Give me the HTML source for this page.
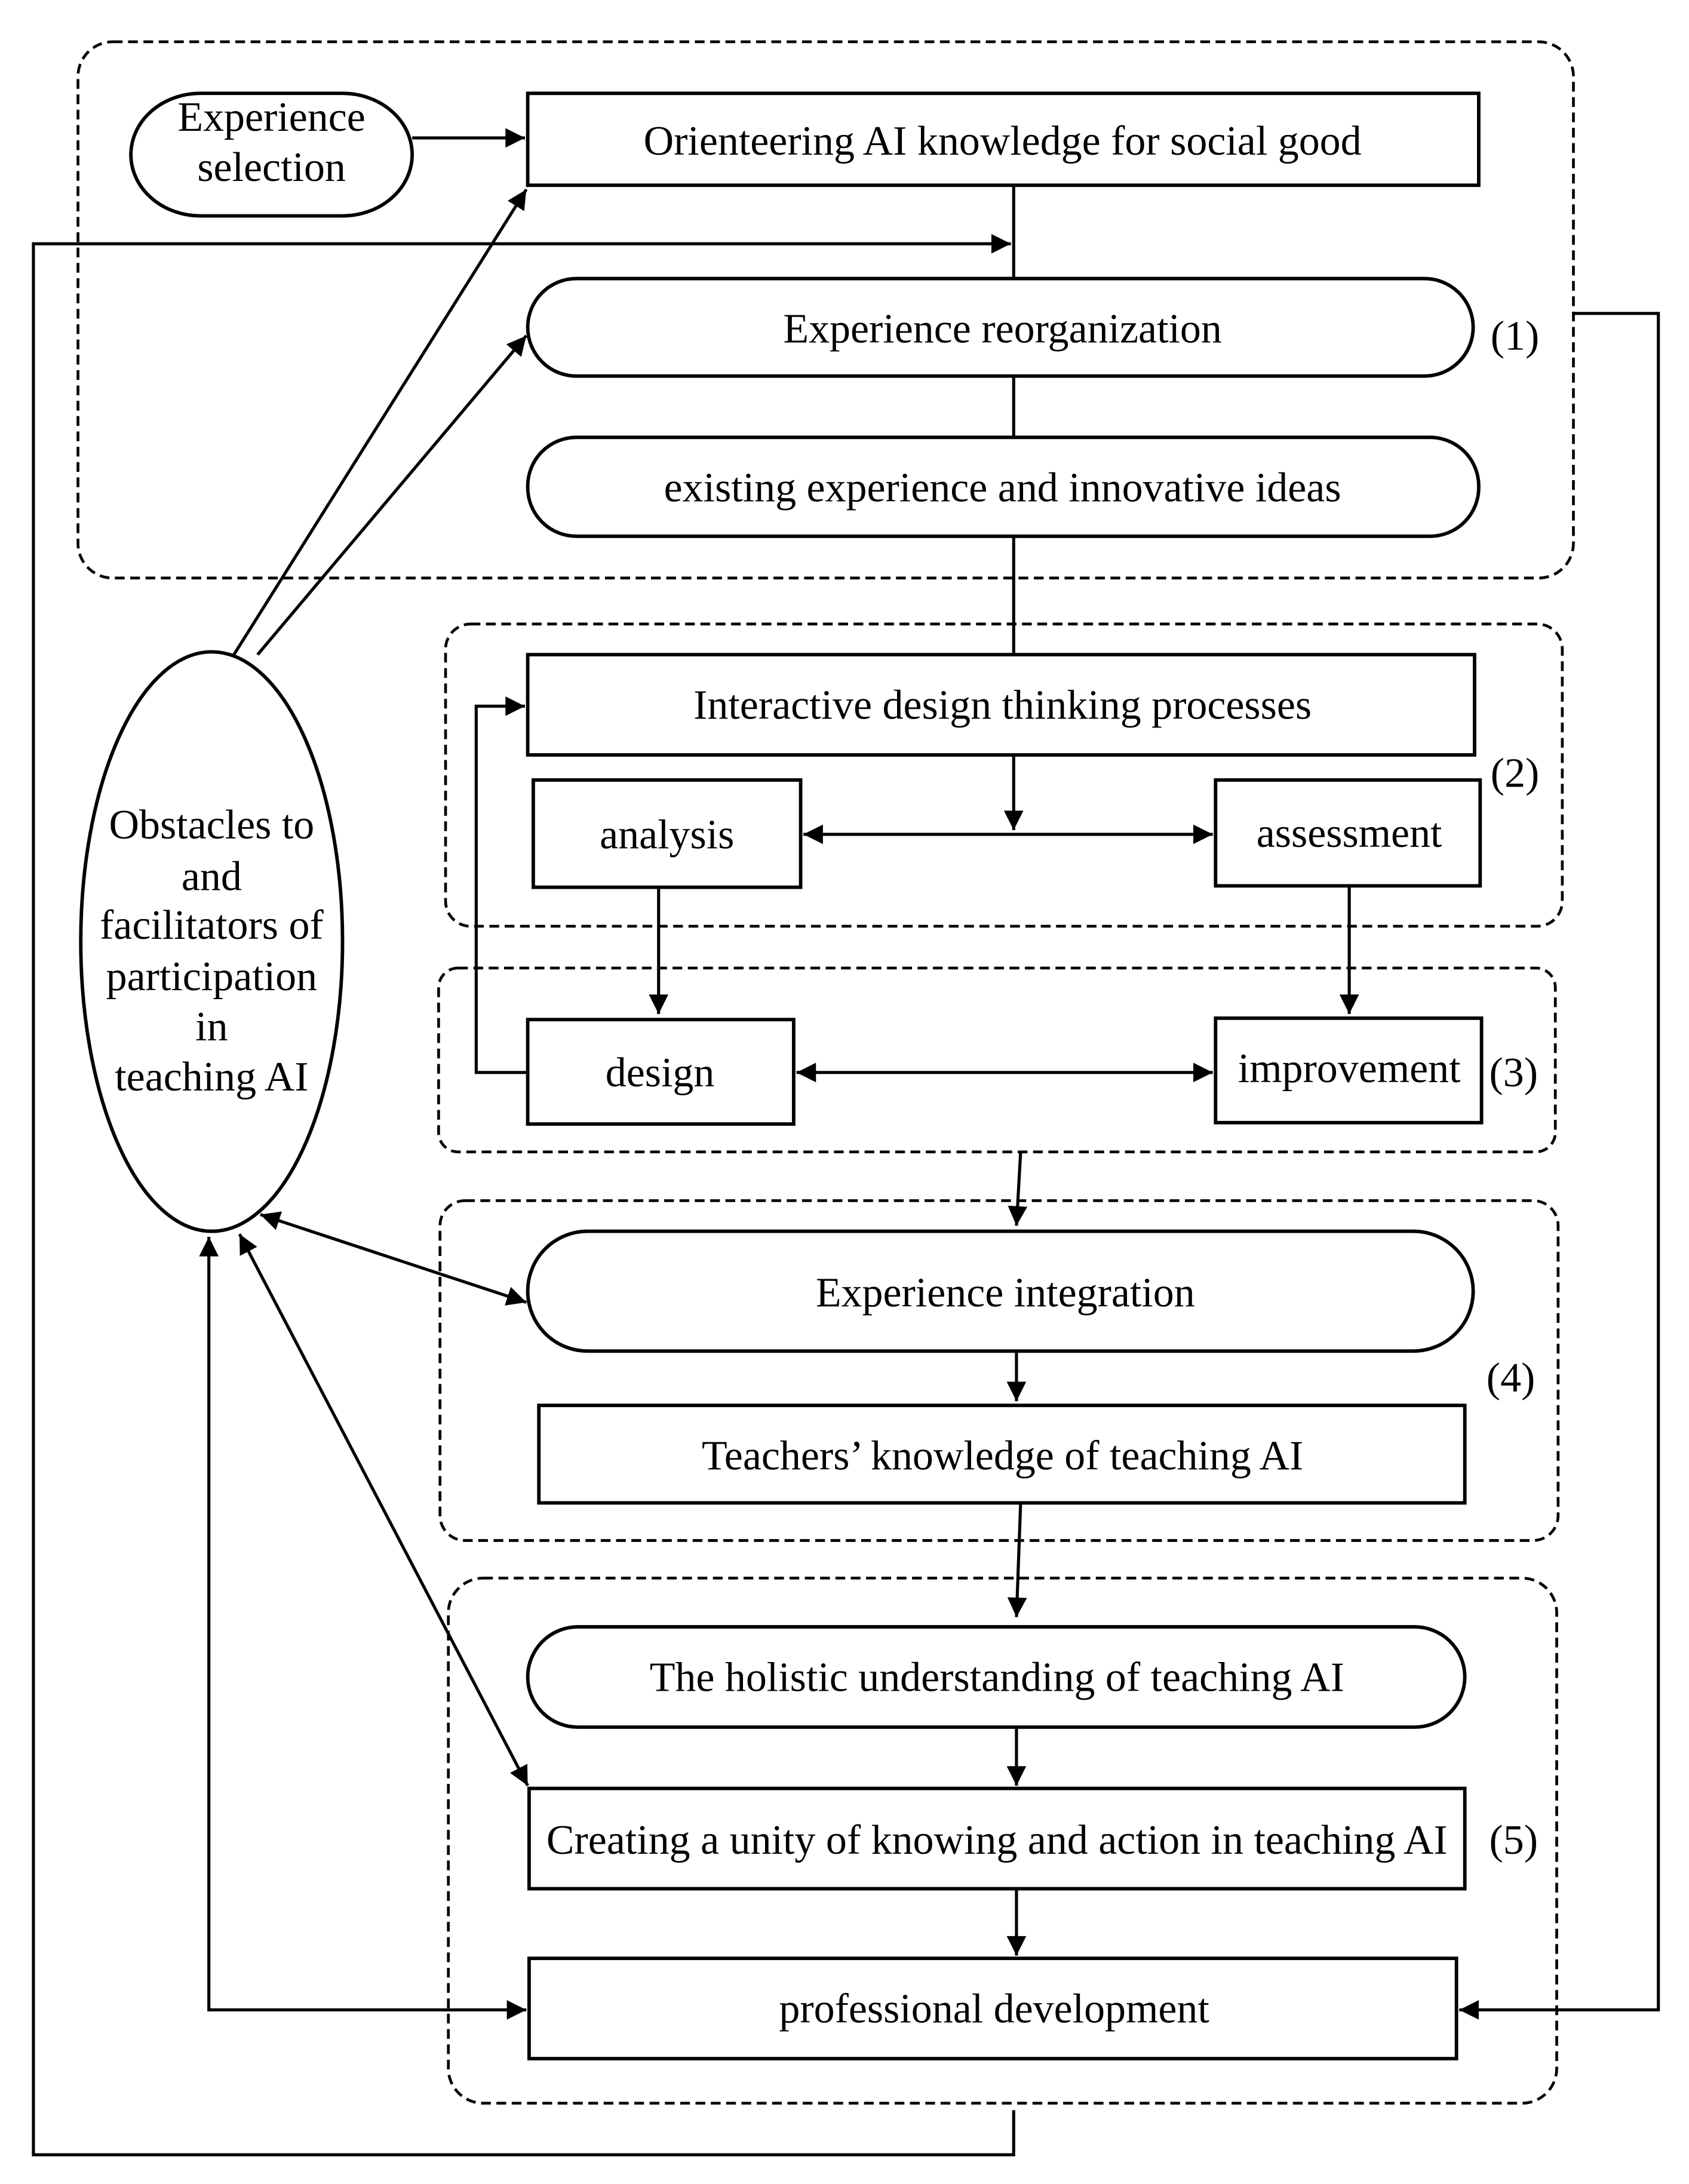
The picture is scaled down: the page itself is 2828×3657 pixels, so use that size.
<!DOCTYPE html>
<html><head><meta charset="utf-8"><style>html,body{margin:0;padding:0;background:#fff}svg{display:block}</style></head><body>
<svg width="2828" height="3657" viewBox="0 0 1213 1568" preserveAspectRatio="none" xmlns="http://www.w3.org/2000/svg">
<defs>
<marker id="b" viewBox="0 0 10 10" refX="10" refY="5" markerWidth="18" markerHeight="14" markerUnits="userSpaceOnUse" orient="auto-start-reverse"><path d="M0,0L10,5L0,10z" fill="#000"/></marker></defs>
<g fill="none" stroke="#000" stroke-width="2" stroke-dasharray="7 4">
<rect x="56" y="30" width="1074" height="385" rx="25"/>
<rect x="320" y="448" width="802" height="217" rx="18"/>
<rect x="315" y="695" width="802" height="132" rx="14"/>
<rect x="316" y="862" width="803" height="244" rx="18"/>
<rect x="322" y="1133" width="796" height="377" rx="25"/>
</g>
<g fill="#fff" stroke="#000" stroke-width="2.5">
<rect x="94" y="67" width="202" height="88" rx="50"/>
<rect x="379" y="67" width="683" height="66"/>
<rect x="379" y="200" width="679" height="70" rx="35"/>
<rect x="379" y="314" width="683" height="71" rx="35"/>
<rect x="379" y="470" width="680" height="72"/>
<rect x="383" y="560" width="192" height="77"/>
<rect x="873" y="560" width="190" height="76"/>
<rect x="379" y="732" width="191" height="75"/>
<rect x="873" y="731" width="191" height="75"/>
<rect x="379" y="884" width="679" height="86" rx="43"/>
<rect x="387" y="1009" width="665" height="70"/>
<rect x="379" y="1168" width="673" height="72" rx="36"/>
<rect x="380" y="1284" width="672" height="72"/>
<rect x="380" y="1406" width="666" height="72"/>
<ellipse cx="152" cy="676" rx="94" ry="208"/>
</g>
<g fill="none" stroke="#000" stroke-width="2.2">
<path d="M296,99H377" marker-end="url(#b)"/>
<path d="M728,133V200M728,270V314M728,385V470"/>
<path d="M728,1515V1547H24V175H726" marker-end="url(#b)"/>
<path d="M728,542V596" marker-end="url(#b)"/>
<path d="M577,599H871" marker-start="url(#b)" marker-end="url(#b)"/>
<path d="M473,637V728" marker-end="url(#b)"/>
<path d="M969,636V728" marker-end="url(#b)"/>
<path d="M572,770H871" marker-start="url(#b)" marker-end="url(#b)"/>
<path d="M379,770H342V507H377" marker-end="url(#b)"/>
<path d="M733,827L730,880" marker-end="url(#b)"/>
<path d="M730,970V1006" marker-end="url(#b)"/>
<path d="M733,1079L730,1161" marker-end="url(#b)"/>
<path d="M730,1240V1282" marker-end="url(#b)"/>
<path d="M730,1356V1404" marker-end="url(#b)"/>
<path d="M1130,225H1191V1443H1048" marker-end="url(#b)"/>
<path d="M168,470L378,136" marker-end="url(#b)"/>
<path d="M185,470L378,241" marker-end="url(#b)"/>
<path d="M187,872L378,935" marker-start="url(#b)" marker-end="url(#b)"/>
<path d="M172,886L379,1282" marker-start="url(#b)" marker-end="url(#b)"/>
<path d="M150,888V1443H378" marker-start="url(#b)" marker-end="url(#b)"/>
</g>
<g font-family="Liberation Serif, serif" font-size="30" text-anchor="middle" fill="#000">
<text x="195" y="94">Experience</text><text x="195" y="130">selection</text>
<text x="720" y="111">Orienteering AI knowledge for social good</text>
<text x="720" y="246">Experience reorganization</text>
<text x="720" y="360">existing experience and innovative ideas</text>
<text x="720" y="516">Interactive design thinking processes</text>
<text x="479" y="609">analysis</text>
<text x="969" y="608">assessment</text>
<text x="474" y="780">design</text>
<text x="969" y="777">improvement</text>
<text x="722" y="938">Experience integration</text>
<text x="720" y="1055">Teachers’ knowledge of teaching AI</text>
<text x="716" y="1214">The holistic understanding of teaching AI</text>
<text x="716" y="1331">Creating a unity of knowing and action in teaching AI</text>
<text x="714" y="1452">professional development</text>
<text x="1088" y="251">(1)</text><text x="1088" y="565">(2)</text><text x="1087" y="780">(3)</text><text x="1085" y="999">(4)</text><text x="1087" y="1331">(5)</text>
<text x="152" y="602">Obstacles to</text><text x="152" y="639">and</text><text x="152" y="674">facilitators of</text><text x="152" y="711">participation</text><text x="152" y="747">in</text><text x="152" y="783">teaching AI</text>
</g>
</svg>
</body></html>
